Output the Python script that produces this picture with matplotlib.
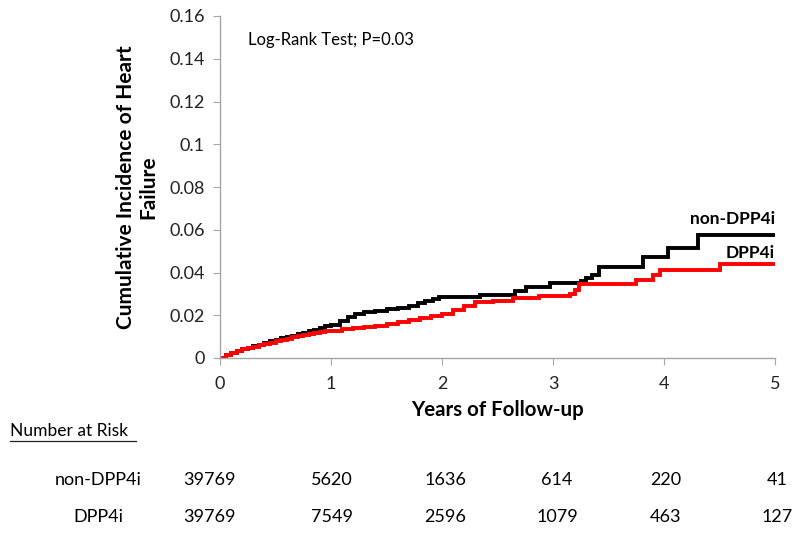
import matplotlib
matplotlib.use("Agg")
import matplotlib.pyplot as plt

plt.rcParams['font.family'] = ['Lato', 'DejaVu Sans']

# Data
t_non = [0.0, 0.05, 0.1, 0.15, 0.2, 0.25, 0.3, 0.35, 0.4, 0.45, 0.5, 0.55, 0.6, 0.65, 0.7, 0.75,
         0.8, 0.85, 0.9, 0.95, 1.0, 1.08, 1.15, 1.22, 1.3, 1.4, 1.5, 1.6, 1.7, 1.78, 1.85, 1.92,
         1.97, 2.34, 2.66, 2.76, 2.97, 3.25, 3.3, 3.35, 3.41, 3.81, 4.04, 4.31, 5.0]
y_non = [0.0, 0.0015, 0.0025, 0.0033, 0.004, 0.0048, 0.0055, 0.0063, 0.007, 0.0078, 0.0085,
         0.0092, 0.0098, 0.0104, 0.011, 0.0118, 0.0125, 0.0132, 0.014, 0.0148, 0.0155, 0.0175,
         0.019, 0.0205, 0.0215, 0.0222, 0.0228, 0.0235, 0.0245, 0.0255, 0.0265, 0.0278, 0.0285,
         0.0297, 0.0312, 0.0334, 0.035, 0.036, 0.0375, 0.039, 0.0427, 0.0471, 0.0513, 0.0576,
         0.0576]
t_dpp = [0.0, 0.05, 0.1, 0.15, 0.2, 0.25, 0.3, 0.35, 0.4, 0.45, 0.5, 0.55, 0.6, 0.65, 0.7, 0.75,
         0.8, 0.85, 0.9, 0.95, 1.0, 1.1, 1.2, 1.3, 1.4, 1.5, 1.6, 1.7, 1.8, 1.9, 2.0, 2.1, 2.2,
         2.3, 2.46, 2.64, 2.87, 3.15, 3.2, 3.23, 3.75, 3.9, 3.96, 4.5, 5.0]
y_dpp = [0.0, 0.0015, 0.0025, 0.0033, 0.004, 0.0047, 0.0053, 0.0059, 0.0065, 0.0072, 0.0078,
         0.0084, 0.009, 0.0096, 0.0102, 0.0107, 0.0112, 0.0117, 0.0122, 0.0125, 0.0128, 0.0135,
         0.014, 0.0143, 0.0148, 0.016, 0.017, 0.0178, 0.0188, 0.0198, 0.0208, 0.0225, 0.0245,
         0.026, 0.0268, 0.0279, 0.029, 0.030, 0.0318, 0.0346, 0.0365, 0.0388, 0.0412, 0.044,
         0.044]
x_ticks = [0, 1, 2, 3, 4, 5]
y_ticks = [0, 0.02, 0.04, 0.06, 0.08, 0.1, 0.12, 0.14, 0.16]
y_ticklabels = ["0", "0.02", "0.04", "0.06", "0.08", "0.1", "0.12", "0.14", "0.16"]
risk_groups = ["non-DPP4i", "DPP4i"]
risk_non = [39769, 5620, 1636, 614, 220, 41]
risk_dpp = [39769, 7549, 2596, 1079, 463, 127]

fig = plt.figure(figsize=(7.99, 5.35), dpi=100)
ax = fig.add_axes([220/799, 1-358/535, 555/799, 342/535])

ax.step(t_non, y_non, where='post', color='black', lw=2.8, solid_joinstyle='miter')
ax.step(t_dpp, y_dpp, where='post', color='#FF0000', lw=2.8, solid_joinstyle='miter')

ax.set_xlim(0, 5)
ax.set_ylim(0, 0.16)
ax.set_xticks(x_ticks)
ax.set_xticklabels([str(v) for v in x_ticks])
ax.set_yticks(y_ticks)
ax.set_yticklabels(y_ticklabels)
for s in ['top', 'right']:
    ax.spines[s].set_visible(False)
for s in ['left', 'bottom']:
    ax.spines[s].set_color('#A6A6A6')
    ax.spines[s].set_linewidth(1.0)
ax.tick_params(axis='both', direction='out', length=5, color='#A6A6A6',
               labelsize=13, labelcolor='#222222')
ax.tick_params(axis='x', pad=8)
ax.tick_params(axis='y', pad=6)

ax.set_xlabel("Years of Follow-up", fontsize=14.8, fontweight='bold', labelpad=6)
ax.set_ylabel("Cumulative Incidence of Heart\nFailure", fontsize=15, fontweight='bold',
              labelpad=8, linespacing=1.15)

ax.text(0.25, 0.149, "Log-Rank Test; P=0.03", fontsize=12, va='center', ha='left')
ax.text(5.0, 0.065, "non-DPP4i", fontsize=12.5, fontweight='bold', ha='right', va='center')
ax.text(5.0, 0.049, "DPP4i", fontsize=12.5, fontweight='bold', ha='right', va='center')

# Number at risk table
fig.text(10/799, 1-431/535, "Number at Risk", fontsize=12.5, ha='left', va='center')
fig.add_artist(plt.Line2D([10/799, 136/799], [1-441/535, 1-441/535], color='#222222', lw=0.9))
row_y = [1-480/535, 1-517/535]
col_offset_px = [-11, 1, 3, 4, 2, 2]
for gi, (name, vals) in enumerate(zip(risk_groups, [risk_non, risk_dpp])):
    fig.text(98/799, row_y[gi], name, fontsize=13, ha='center', va='center')
    for xv, v, off in zip(x_ticks, vals, col_offset_px):
        xfig = (220 + xv * 111 + off) / 799
        fig.text(xfig, row_y[gi], str(v), fontsize=13, ha='center', va='center')

fig.savefig("out.png", dpi=100)
